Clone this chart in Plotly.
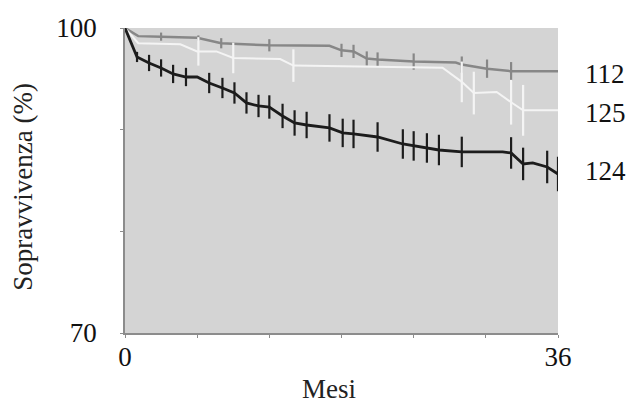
import numpy as np
import plotly.graph_objects as go

# ---- data (months, survival %) ----
g112_t = [0, 1.1, 3.0, 6.0, 8.0, 12.0, 17.0, 18.0, 19.0, 20.1, 21.0, 24.0, 27.5, 28.0, 30.1, 32.1, 36.0]
g112_s = [100, 99.2, 99.15, 99.05, 98.5, 98.3, 98.25, 97.8, 97.7, 97.0, 96.9, 96.7, 96.6, 96.4, 96.0, 95.75, 95.75]
g112_bar_t = [3.0, 6.1, 8.0, 12.0, 18.0, 19.0, 20.1, 21.0, 24.0, 28.0, 30.1, 32.1]
g112_bar_e = [0.4, 0.25, 0.5, 0.6, 0.65, 0.65, 0.7, 0.7, 0.8, 0.8, 0.9, 0.9]

g125_t = [0, 1.1, 4.6, 6.0, 7.6, 9.0, 12.9, 14.0, 26.4, 28.0, 29.0, 30.9, 32.1, 33.1, 36.0]
g125_s = [100, 98.5, 98.4, 97.7, 97.7, 97.05, 96.95, 96.3, 96.1, 94.7, 93.6, 93.7, 92.7, 91.9, 91.9]
g125_bar_t = [6.1, 9.0, 14.0, 28.0, 29.0, 32.1, 33.1]
g125_bar_e = [1.4, 1.5, 1.6, 2.0, 2.1, 2.2, 2.5]

g124_t = [0, 1.0, 2.0, 3.0, 4.0, 5.07, 6.0, 7.0, 8.1, 9.1, 10.1, 11.1, 12.0, 13.1, 14.1, 15.1, 17.0,
          18.1, 19.0, 21.0, 23.1, 24.0, 25.1, 26.1, 28.0, 31.4, 32.1, 33.1, 33.9, 35.1, 36.0]
g124_s = [100, 97.15, 96.56, 96.07, 95.48, 95.18, 95.18, 94.59, 94.10, 93.61, 92.63, 92.33, 92.23, 91.35,
          90.66, 90.46, 90.17, 89.68, 89.58, 89.28, 88.59, 88.40, 88.20, 88.00, 87.81, 87.81, 87.71, 86.63,
          86.73, 86.33, 85.64]
g124_bar_t = [1.0, 2.0, 3.0, 4.0, 5.07, 7.0, 8.1, 9.1, 10.1, 11.1, 12.0, 13.1, 14.1, 15.1, 17.0, 18.1, 19.0,
              21.0, 23.1, 24.0, 25.1, 26.1, 28.0, 32.1, 33.1, 35.1, 36.0]
g124_bar_e = [0.5, 0.8, 0.85, 0.9, 0.9, 1.0, 1.0, 1.05, 1.05, 1.1, 1.15, 1.2, 1.25, 1.3, 1.35, 1.4, 1.4,
              1.45, 1.45, 1.45, 1.45, 1.5, 1.5, 1.55, 1.6, 1.6, 1.7]

labels = ["112", "125", "124"]
label_y = [95.5, 91.6, 85.9]

x_ticks = [0, 6, 12, 18, 24, 30, 36]
x_ticktext = ["0", "", "", "", "", "", "36"]
y_ticks = [70, 80, 90, 100]
y_ticktext = ["70", "", "", "100"]

FONT = "Liberation Serif"
FS = 27

series = [
    (g112_t, g112_s, g112_bar_t, g112_bar_e, "#878787", 2.5),
    (g125_t, g125_s, g125_bar_t, g125_bar_e, "#f4f4f4", 2.0),
    (g124_t, g124_s, g124_bar_t, g124_bar_e, "#1c1c1c", 2.8),
]

fig = go.Figure()
for t, s, bt, be, col, lw in series:
    fig.add_trace(go.Scatter(x=t, y=s, mode="lines", line=dict(color=col, width=lw),
                             hoverinfo="skip", showlegend=False))
    by = np.interp(bt, t, s)
    fig.add_trace(go.Scatter(x=bt, y=by, mode="markers", marker=dict(size=1, opacity=0),
                             error_y=dict(type="data", array=be, symmetric=True, color=col,
                                          thickness=2.2, width=0),
                             hoverinfo="skip", showlegend=False, cliponaxis=False))

for lab, ly in zip(labels, label_y):
    fig.add_annotation(text=lab, x=1.058, xref="paper", y=ly, yref="y", xanchor="left",
                       yanchor="middle", showarrow=False, font=dict(family=FONT, size=FS, color="#111"))

fig.add_annotation(text="Sopravvivenza (%)", x=-0.236, xref="paper", y=0.479, yref="paper",
                   textangle=-90, showarrow=False, xanchor="center", yanchor="middle",
                   font=dict(family=FONT, size=FS, color="#222"))
fig.add_annotation(text="Mesi", x=0.47, xref="paper", y=-0.185, yref="paper",
                   showarrow=False, xanchor="center", yanchor="middle",
                   font=dict(family=FONT, size=FS, color="#222"))

fig.update_layout(
    width=629, height=396,
    margin=dict(l=117, r=79, t=20, b=71, autoexpand=False),
    paper_bgcolor="white", plot_bgcolor="#d4d4d4",
    font=dict(family=FONT, size=FS, color="#111"),
    xaxis=dict(range=[0, 36], tickvals=x_ticks, ticktext=x_ticktext, showgrid=False, zeroline=False,
               showline=True, linecolor="#8c8c8c", linewidth=1.5, ticks="outside", ticklen=3,
               tickcolor="#8c8c8c", ticklabelstandoff=-4, automargin=False),
    yaxis=dict(range=[70, 100], tickvals=y_ticks, ticktext=y_ticktext, showgrid=False, zeroline=False,
               showline=True, linecolor="#8c8c8c", linewidth=1.5, ticks="outside", ticklen=3,
               tickcolor="#8c8c8c", ticklabelstandoff=18, automargin=False),
)

fig.write_html("out.html")
